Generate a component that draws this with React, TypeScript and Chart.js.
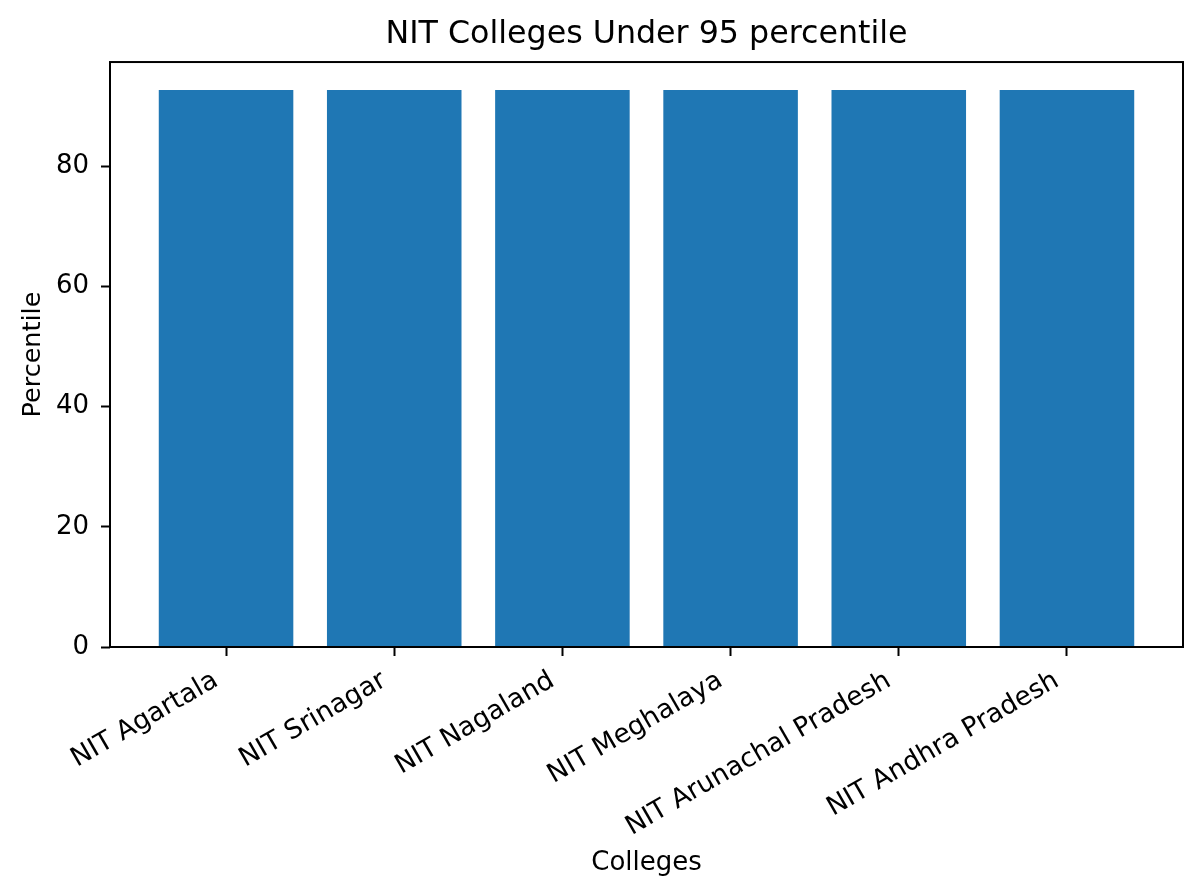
import { useEffect, useRef } from "react"
import { Chart, registerables, ChartOptions, Plugin } from "chart.js"

Chart.register(...registerables)

// Data
const colleges = [
  "NIT Agartala",
  "NIT Srinagar",
  "NIT Nagaland",
  "NIT Meghalaya",
  "NIT Arunachal Pradesh",
  "NIT Andhra Pradesh",
]
const percentiles = [92.7, 92.7, 92.7, 92.7, 92.7, 92.7]
const yTicks = [0, 20, 40, 60, 80]

const FONT = "DejaVu Sans"
const BAR_COLOR = "#1f77b4"

// matplotlib-style frame around the plot area
const framePlugin: Plugin<"bar"> = {
  id: "frame",
  afterDraw: (chart) => {
    const { ctx, chartArea } = chart
    ctx.save()
    ctx.strokeStyle = "#000"
    ctx.lineWidth = 2
    ctx.strokeRect(chartArea.left, chartArea.top, chartArea.right - chartArea.left, chartArea.bottom - chartArea.top)
    ctx.restore()
  },
}

export default function App() {
  const chartRef = useRef<HTMLCanvasElement>(null)
  const chartInstance = useRef<Chart<"bar", { x: number; y: number }[]> | null>(null)

  useEffect(() => {
    document.body.style.margin = "0"
    if (!chartRef.current) return
    const ctx = chartRef.current.getContext("2d")
    if (!ctx) return

    const yMax = Math.max(...percentiles) * 1.05
    const n = colleges.length
    const xMargin = (n - 1 + 0.8) * 0.05

    const options: ChartOptions<"bar"> = {
      responsive: false,
      animation: false,
      devicePixelRatio: 1,
      layout: { padding: { left: 0, right: 17, top: 0, bottom: 0 } },
      plugins: {
        legend: { display: false },
        tooltip: { enabled: false },
        title: {
          display: true,
          fullSize: false,
          text: "NIT Colleges Under 95 percentile",
          color: "#000",
          font: { family: FONT, size: 31.7, weight: "normal", lineHeight: 1.2 },
          padding: { top: 16, bottom: 8 },
        },
      },
      scales: {
        x: {
          type: "linear",
          min: -0.4 - xMargin,
          max: n - 1 + 0.4 + xMargin,
          offset: false,
          afterBuildTicks: (scale) => {
            scale.ticks = colleges.map((_, i) => ({ value: i }))
          },
          afterFit: (scale) => {
            scale.height = 248
          },
          ticks: {
            autoSkip: false,
            minRotation: 30,
            maxRotation: 30,
            padding: 9,
            labelOffset: -10,
            color: "#000",
            font: { family: FONT, size: 26.5 },
            callback: (value) => colleges[value as number] ?? "",
          },
          grid: {
            offset: false,
            drawOnChartArea: false,
            drawTicks: true,
            tickLength: 9,
            tickWidth: 2,
            tickColor: "#000",
            color: "#000",
          },
          border: { display: false },
          title: {
            display: true,
            text: "Colleges",
            color: "#000",
            font: { family: FONT, size: 26 },
            padding: { top: 0, bottom: 16 },
          },
        },
        y: {
          type: "linear",
          min: 0,
          max: yMax,
          afterBuildTicks: (scale) => {
            scale.ticks = yTicks.map((v) => ({ value: v }))
          },
          afterFit: (scale) => {
            scale.width = 110
          },
          ticks: {
            padding: 12,
            color: "#000",
            font: { family: FONT, size: 26 },
          },
          grid: {
            drawOnChartArea: false,
            drawTicks: true,
            tickLength: 9,
            tickWidth: 2,
            tickColor: "#000",
            color: "#000",
          },
          border: { display: false },
          title: {
            display: true,
            text: "Percentile",
            color: "#000",
            font: { family: FONT, size: 25.5 },
            padding: { top: 18, bottom: 0 },
          },
        },
      },
    }

    chartInstance.current = new Chart(ctx, {
      type: "bar",
      data: {
        datasets: [
          {
            data: percentiles.map((y, i) => ({ x: i, y })),
            backgroundColor: BAR_COLOR,
            borderWidth: 0,
            barPercentage: 0.8,
            categoryPercentage: 1.0,
          },
        ],
      },
      options,
      plugins: [framePlugin],
    })

    return () => {
      if (chartInstance.current) {
        chartInstance.current.destroy()
        chartInstance.current = null
      }
    }
  }, [])

  return <canvas ref={chartRef} width={1200} height={895} style={{ display: "block" }} />
}
